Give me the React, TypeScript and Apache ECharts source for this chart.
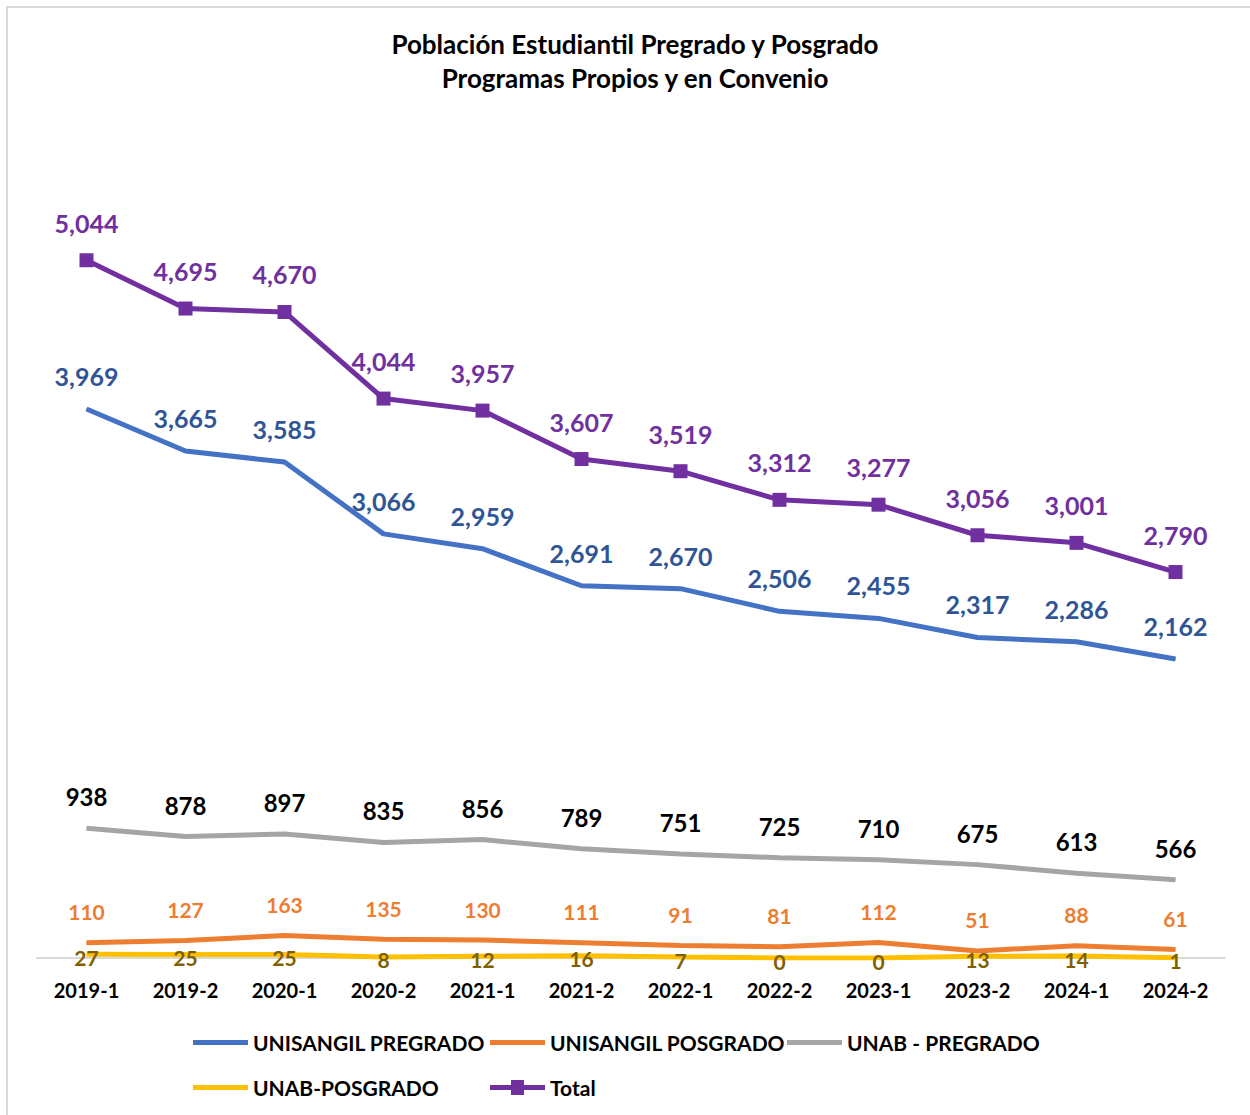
import React, { useEffect, useRef } from "react";
import * as echarts from "echarts";

const categories = ["2019-1", "2019-2", "2020-1", "2020-2", "2021-1", "2021-2", "2022-1", "2022-2", "2023-1", "2023-2", "2024-1", "2024-2"];
const unisangilPregrado = [3969, 3665, 3585, 3066, 2959, 2691, 2670, 2506, 2455, 2317, 2286, 2162];
const unisangilPosgrado = [110, 127, 163, 135, 130, 111, 91, 81, 112, 51, 88, 61];
const unabPregrado = [938, 878, 897, 835, 856, 789, 751, 725, 710, 675, 613, 566];
const unabPosgrado = [27, 25, 25, 8, 12, 16, 7, 0, 0, 13, 14, 1];
const total = [5044, 4695, 4670, 4044, 3957, 3607, 3519, 3312, 3277, 3056, 3001, 2790];

const FONT = "Lato";

export default function App() {
  const ref = useRef<HTMLDivElement>(null);
  useEffect(() => {
    document.body.style.margin = "0";
    const chart = echarts.init(ref.current!, null, { renderer: "svg" });
    const fmt = (p: any) => Number(p.value).toLocaleString("en-US");
    const labelBase = (color: string) => ({
      show: true,
      position: "top",
      distance: 18,
      color,
      fontFamily: FONT,
      fontWeight: "bold",
      fontSize: 25,
      formatter: fmt,
    });
    const legendText = { fontFamily: FONT, fontWeight: "bold", fontSize: 21, color: "#000", lineHeight: 21 };
    const lineIcon = "rect";
    const totalIcon = "path://M0,5 L21,5 L21,0 L34,0 L34,5 L55,5 L55,10 L34,10 L34,15 L21,15 L21,10 L0,10 Z";
    const mkLegend = (name: string, left: number, row: number) => {
      const isTotal = name === "Total";
      const h = isTotal ? 15 : 5;
      const cy = row === 0 ? 1043 : 1088;
      return {
        orient: "horizontal",
        left,
        top: cy - 11,
        padding: 0,
        itemWidth: 55,
        itemHeight: h,
        itemGap: 5,
        symbolKeepAspect: false,
        textStyle: legendText,
        data: [{ name, icon: isTotal ? totalIcon : lineIcon }],
      };
    };
    const invisibleSym = { symbol: "circle", symbolSize: 1, showSymbol: true };
    chart.setOption({
      animation: false,
      backgroundColor: "#fff",
      title: {
        text: "Población Estudiantil Pregrado y Posgrado\nProgramas Propios y en Convenio",
        left: 630,
        textAlign: "center",
        top: 22,
        textStyle: { fontFamily: FONT, fontWeight: "bold", fontSize: 26, lineHeight: 34, color: "#000" },
      },
      graphic: [
        {
          type: "rect",
          shape: { x: 7, y: 7, width: 1400, height: 1300 },
          style: { fill: "none", stroke: "#D9D9D9", lineWidth: 2 },
          silent: true,
        },
      ],
      legend: [
        mkLegend("UNISANGIL PREGRADO", 193, 0),
        mkLegend("UNISANGIL POSGRADO", 490, 0),
        mkLegend("UNAB - PREGRADO", 787, 0),
        mkLegend("UNAB-POSGRADO", 193, 1),
        mkLegend("Total", 490, 1),
      ],
      grid: { left: 37, right: 25, top: 128, bottom: 157 },
      xAxis: {
        type: "category",
        data: categories,
        boundaryGap: true,
        axisLine: { lineStyle: { color: "#D9D9D9", width: 2 } },
        axisTick: { show: false },
        axisLabel: { fontFamily: FONT, fontWeight: "bold", fontSize: 20, color: "#000", margin: 22 },
      },
      yAxis: {
        type: "value",
        min: 0,
        max: 6000,
        show: false,
        splitLine: { show: false },
      },
      series: [
        {
          name: "UNISANGIL PREGRADO",
          type: "line",
          data: unisangilPregrado,
          ...invisibleSym,
          lineStyle: { color: "#4472C4", width: 5 },
          itemStyle: { color: "#4472C4" },
          label: { ...labelBase("#2F5597"), distance: 20 },
        },
        {
          name: "UNISANGIL POSGRADO",
          type: "line",
          data: unisangilPosgrado,
          ...invisibleSym,
          lineStyle: { color: "#ED7D31", width: 5 },
          itemStyle: { color: "#ED7D31" },
          label: { ...labelBase("#ED7D31"), fontSize: 21, distance: 20 },
        },
        {
          name: "UNAB - PREGRADO",
          type: "line",
          data: unabPregrado,
          ...invisibleSym,
          lineStyle: { color: "#A5A5A5", width: 5 },
          itemStyle: { color: "#A5A5A5" },
          label: { ...labelBase("#000000"), fontSize: 24, distance: 19 },
        },
        {
          name: "UNAB-POSGRADO",
          type: "line",
          data: unabPosgrado,
          ...invisibleSym,
          lineStyle: { color: "#FFC000", width: 5 },
          itemStyle: { color: "#FFC000" },
          label: { ...labelBase("#7F6000"), position: "inside", offset: [0, 3], fontSize: 21 },
        },
        {
          name: "Total",
          type: "line",
          data: total,
          symbol: "rect",
          symbolSize: 14,
          lineStyle: { color: "#7030A0", width: 5 },
          itemStyle: { color: "#7030A0" },
          label: labelBase("#7030A0"),
        },
      ],
    });
    return () => chart.dispose();
  }, []);
  return <div ref={ref} style={{ width: 1250, height: 1115 }} />;
}
